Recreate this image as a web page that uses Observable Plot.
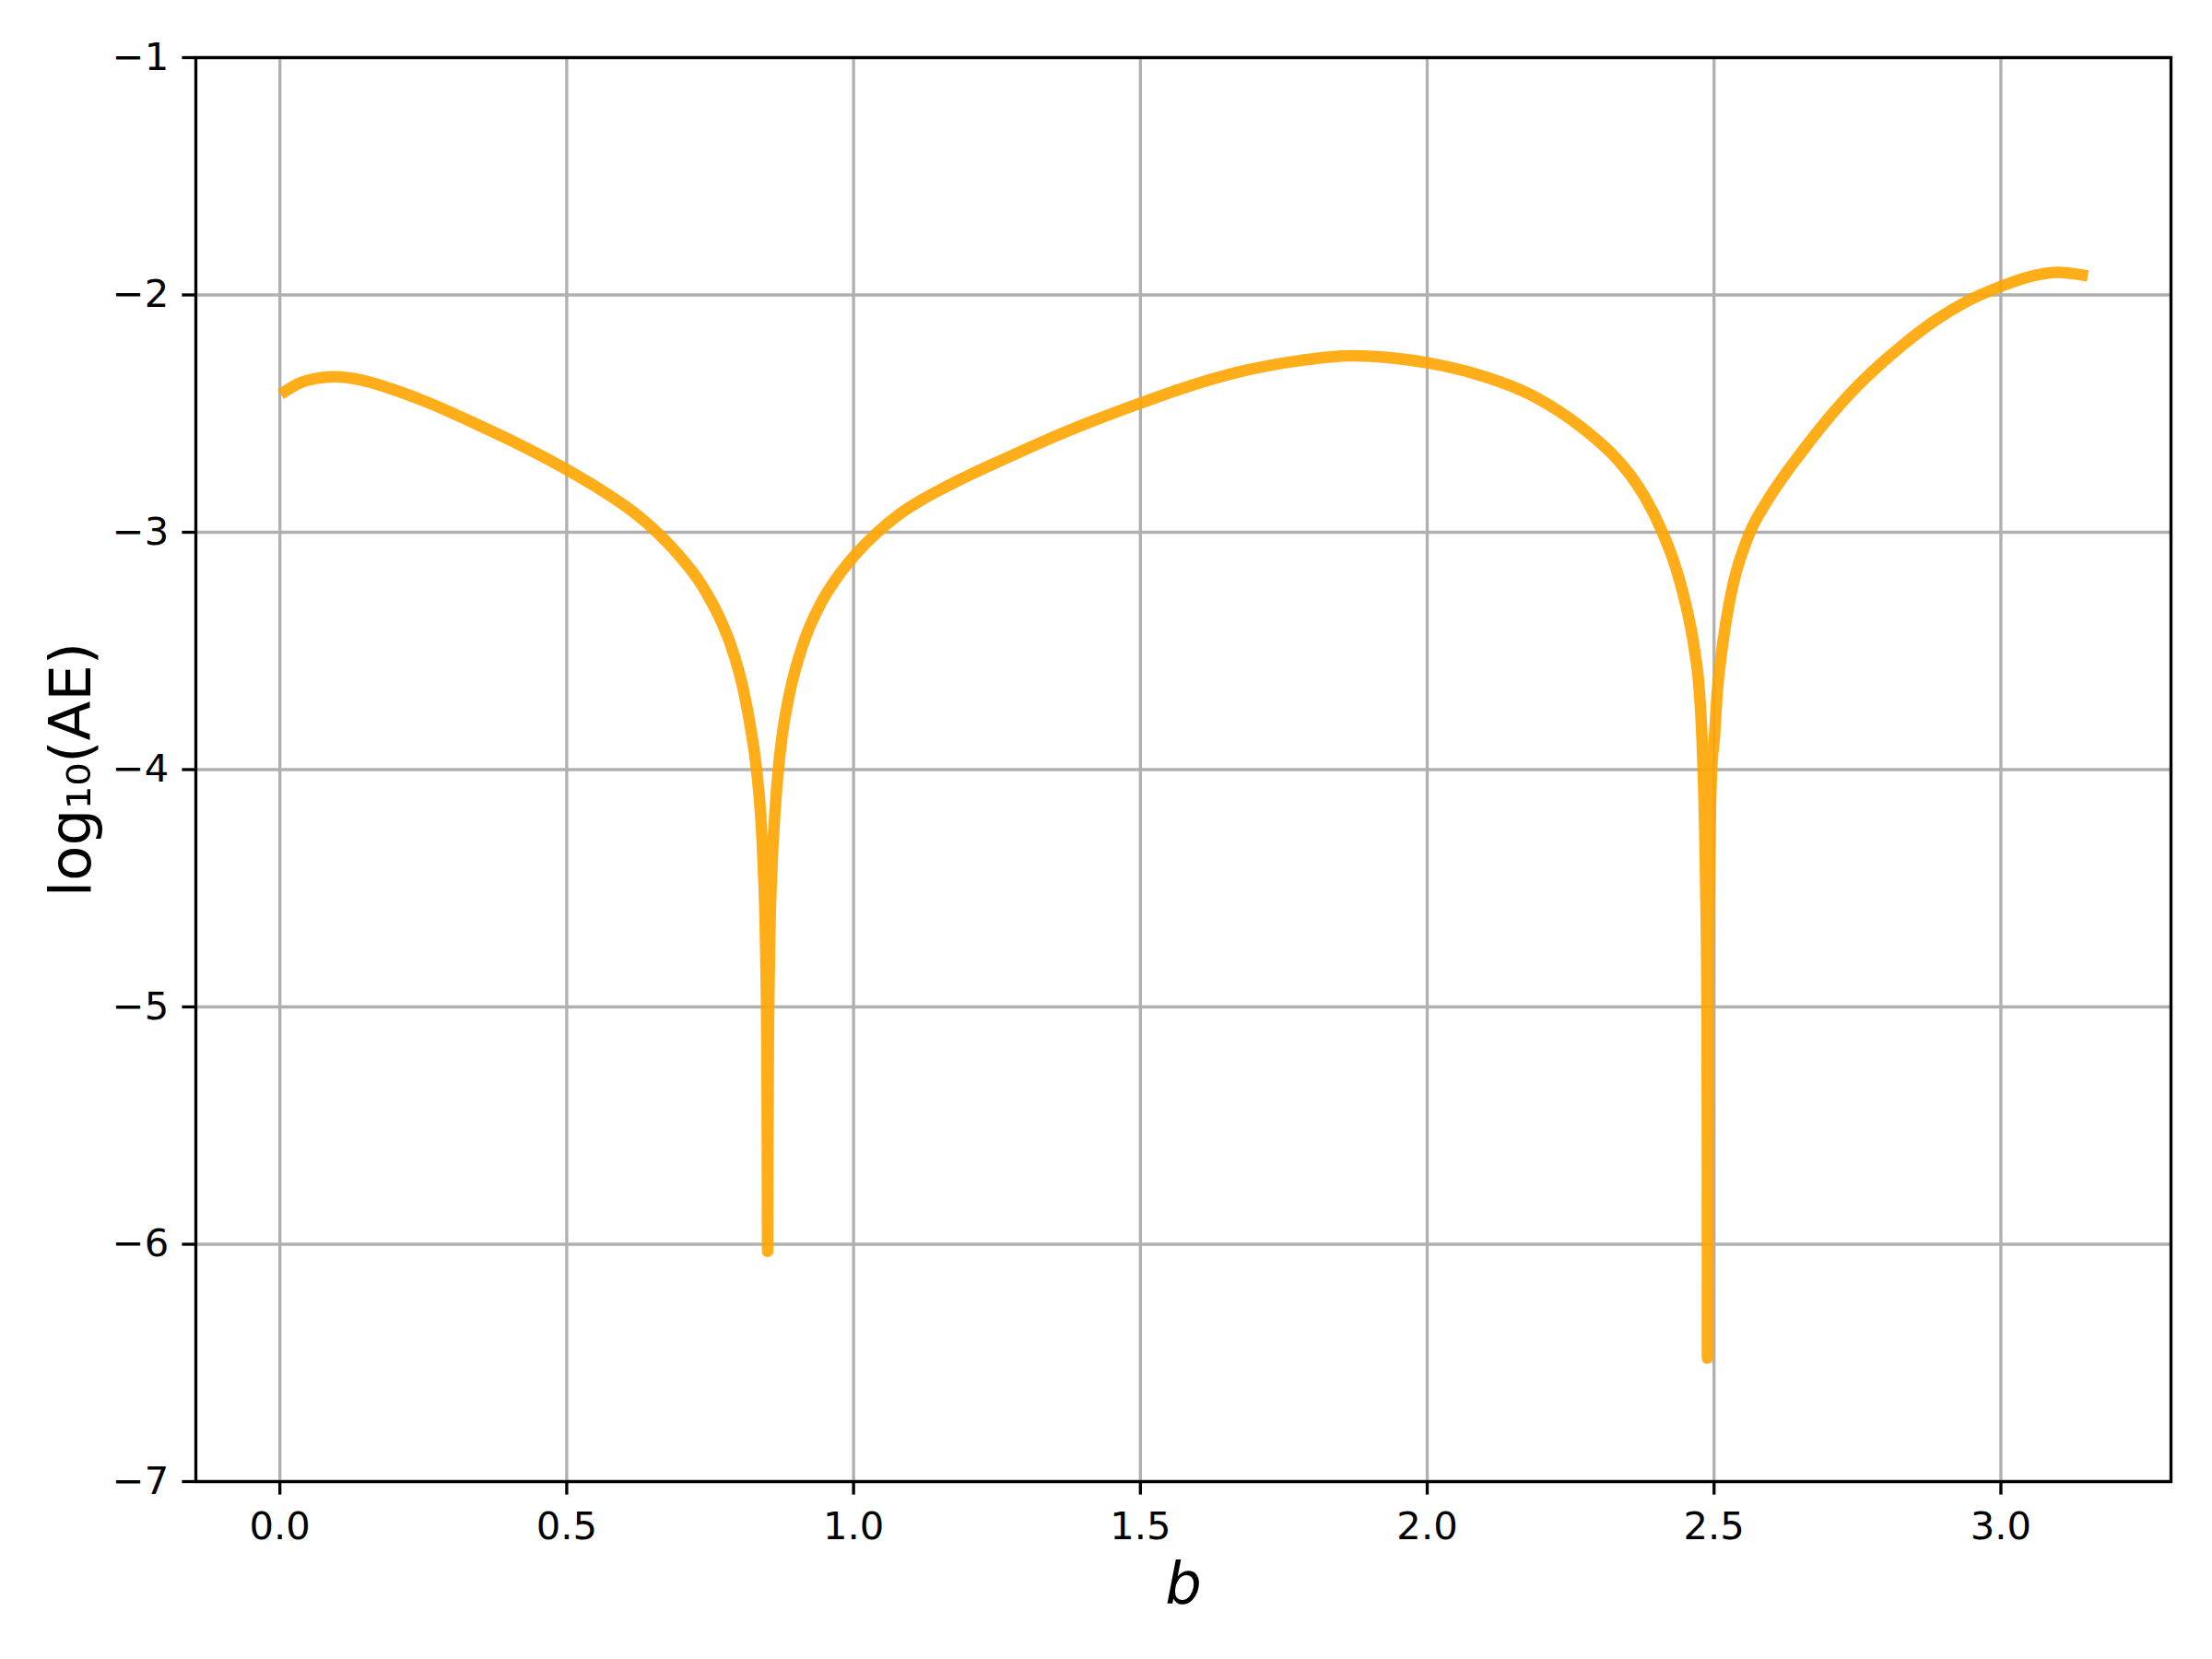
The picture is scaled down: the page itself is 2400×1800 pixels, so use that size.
<!DOCTYPE html>
<html>
<head>
<meta charset="utf-8">
<script src="https://cdn.jsdelivr.net/npm/d3@7"></script>
<script src="https://cdn.jsdelivr.net/npm/@observablehq/plot@0.6"></script>
<style>
  html, body { margin: 0; padding: 0; background: #ffffff; }
  #chart svg { display: block; }
</style>
</head>
<body>
<div id="chart"></div>
<script>
// ---- data ----
const bValues = [
  0.010, 0.034, 0.063, 0.095, 0.142, 0.192, 0.264, 0.335, 0.407, 0.500,
  0.550, 0.622, 0.658, 0.693, 0.736, 0.765, 0.788, 0.8068, 0.8202, 0.8309,
  0.8380, 0.8425, 0.8471, 0.8490, 0.8497, 0.8502, 0.8507, 0.8514, 0.8533, 0.8579,
  0.8627, 0.8688, 0.8750, 0.8890, 0.9110, 0.9433, 0.970, 1.000, 1.0418, 1.0777,
  1.120, 1.180, 1.266, 1.369, 1.500, 1.574, 1.676, 1.779, 1.866, 2.000,
  2.086, 2.188, 2.270, 2.3296, 2.3564, 2.3778, 2.410, 2.4314, 2.4502, 2.4650,
  2.4745, 2.4790, 2.4810, 2.4855, 2.4877, 2.4883, 2.4885, 2.4887, 2.4891, 2.4897,
  2.4915, 2.4958, 2.5005, 2.5055, 2.5145, 2.5273, 2.5332, 2.5627, 2.5922, 2.6243,
  2.6565, 2.694, 2.726, 2.7794, 2.833, 2.8865, 2.940, 3.000, 3.047, 3.1006,
  3.1416
];
const log10AE = [
  -2.405, -2.372, -2.352, -2.345, -2.359, -2.394, -2.459, -2.536, -2.618, -2.736,
  -2.807, -2.926, -3.002, -3.090, -3.225, -3.353, -3.490, -3.652, -3.820, -4.000,
  -4.190, -4.400, -4.800, -5.200, -5.600, -6.030, -5.600, -5.200, -4.800, -4.400,
  -4.190, -4.000, -3.867, -3.673, -3.479, -3.298, -3.195, -3.103, -3.000, -2.928,
  -2.862, -2.785, -2.688, -2.578, -2.456, -2.393, -2.322, -2.276, -2.256, -2.286,
  -2.334, -2.430, -2.560, -2.689, -2.767, -2.845, -3.000, -3.135, -3.300, -3.481,
  -3.675, -3.868, -4.000, -4.500, -5.000, -5.600, -6.480, -5.600, -5.200, -5.000,
  -4.500, -4.000, -3.868, -3.675, -3.481, -3.288, -3.220, -3.000, -2.870, -2.754,
  -2.650, -2.535, -2.445, -2.315, -2.203, -2.106, -2.028, -1.964, -1.925, -1.905,
  -1.916
];
const xTicks = [0, 0.5, 1, 1.5, 2, 2.5, 3];
const xTickLabels = ["0.0", "0.5", "1.0", "1.5", "2.0", "2.5", "3.0"];
const yTicks = [-7, -6, -5, -4, -3, -2, -1];
const yTickLabels = ["\u22127", "\u22126", "\u22125", "\u22124", "\u22123", "\u22122", "\u22121"];
const xLabel = "b";
const yLabel = "log\u2081\u2080(AE)";

// ---- build ----
const data = bValues.map((b, i) => ({b, v: log10AE[i]}));
const xLab = new Map(xTicks.map((t, i) => [t, xTickLabels[i]]));
const yLab = new Map(yTicks.map((t, i) => [t, yTickLabels[i]]));

const tickFont = 41.7;
const labelFont = 62.5;
const lw = 3.33;

const chart = Plot.plot({
  width: 2400,
  height: 1800,
  marginLeft: 212,
  marginRight: 45,
  marginTop: 62,
  marginBottom: 193,
  style: {fontFamily: "DejaVu Sans", background: "#ffffff", color: "#000000"},
  x: {domain: [-0.1465, 3.2965]},
  y: {domain: [-7, -1]},
  marks: [
    Plot.gridX(xTicks, {stroke: "#b0b0b0", strokeOpacity: 1, strokeWidth: lw}),
    Plot.gridY(yTicks, {stroke: "#b0b0b0", strokeOpacity: 1, strokeWidth: lw}),
    Plot.line(data, {
      x: "b", y: "v",
      stroke: "#FFA500", strokeOpacity: 0.9, strokeWidth: 12.5,
      curve: "monotone-x", strokeLinecap: "square", strokeLinejoin: "round"
    }),
    Plot.frame({stroke: "#000000", strokeWidth: lw}),
    Plot.axisX(xTicks, {
      anchor: "bottom", tickSize: 14.6, tickPadding: 17.8, strokeWidth: lw,
      fontSize: tickFont, tickFormat: d => xLab.get(d), label: null
    }),
    Plot.axisY(yTicks, {
      anchor: "left", tickSize: 14.6, tickPadding: 14.6, strokeWidth: lw,
      fontSize: tickFont, tickFormat: d => yLab.get(d), label: null
    }),
    Plot.text([xLabel], {
      frameAnchor: "bottom", text: d => d, dy: 131, textAnchor: "middle",
      fontSize: labelFont, fontStyle: "italic", fill: "#000000"
    }),
    Plot.text([yLabel], {
      frameAnchor: "left", text: d => d, rotate: -90, dx: -135, textAnchor: "middle",
      fontSize: labelFont, fill: "#000000"
    })
  ]
});
document.getElementById("chart").appendChild(chart);
</script>
</body>
</html>
